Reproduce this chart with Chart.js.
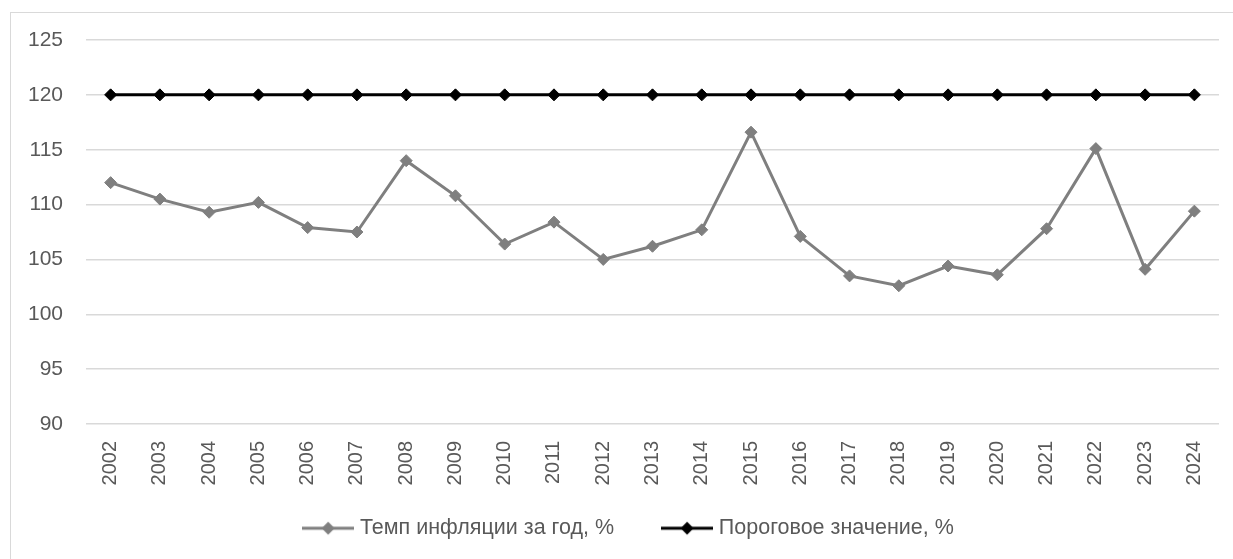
<!DOCTYPE html>
<html>
<head>
<meta charset="utf-8">
<script src="https://cdn.jsdelivr.net/npm/chart.js@4/dist/chart.umd.min.js"></script>
<style>
  html, body { margin: 0; padding: 0; background: #fff; overflow: hidden; }
  #frame { position: absolute; left: 10px; top: 12px; width: 1300px; height: 700px; border: 1px solid #d9d9d9; box-sizing: border-box; }
  #wrap { position: absolute; left: 0; top: 0; width: 1233px; height: 559px; }
</style>
</head>
<body>
<div id="frame"></div>
<div id="wrap"><canvas id="c" width="1233" height="559"></canvas></div>
<script>
const years = ['2002','2003','2004','2005','2006','2007','2008','2009','2010','2011','2012','2013','2014','2015','2016','2017','2018','2019','2020','2021','2022','2023','2024'];
const inflation = [112.0,110.5,109.3,110.2,107.9,107.5,114.0,110.8,106.4,108.4,105.0,106.2,107.7,116.6,107.1,103.5,102.6,104.4,103.6,107.8,115.1,104.1,109.4];
const threshold = [120,120,120,120,120,120,120,120,120,120,120,120,120,120,120,120,120,120,120,120,120,120,120];
const seriesNames = ['Темп инфляции за год, %', 'Пороговое значение, %'];
const yTicks = { min: 90, max: 125, step: 5 };

const FONT = "'Liberation Sans', Arial, sans-serif";
const TEXT = '#595959';

function legendIcon(color) {
  const c = document.createElement('canvas');
  c.width = 52; c.height = 16;
  const g = c.getContext('2d');
  g.strokeStyle = color; g.lineWidth = 3;
  g.beginPath(); g.moveTo(0, 8); g.lineTo(52, 8); g.stroke();
  g.fillStyle = color;
  g.beginPath(); g.moveTo(26, 1.5); g.lineTo(32.5, 8); g.lineTo(26, 14.5); g.lineTo(19.5, 8); g.closePath(); g.fill();
  return c;
}
const icons = [legendIcon('#7f7f7f'), legendIcon('#000000')];

const layoutTweak = {
  id: 'layoutTweak',
  afterLayout(chart) {
    chart.scales.x.bottom = chart.height;
    chart.legend.left += 14;
    chart.legend.right += 14;
  }
};

new Chart(document.getElementById('c'), {
  type: 'line',
  data: {
    labels: years,
    datasets: [
      { label: seriesNames[0], data: inflation, borderColor: '#7f7f7f', backgroundColor: '#7f7f7f',
        borderWidth: 3, pointStyle: 'rectRot', pointRadius: 6, pointBorderWidth: 1, tension: 0 },
      { label: seriesNames[1], data: threshold, borderColor: '#000000', backgroundColor: '#000000',
        borderWidth: 3, pointStyle: 'rectRot', pointRadius: 6, pointBorderWidth: 1, tension: 0 }
    ]
  },
  plugins: [layoutTweak],
  options: {
    responsive: false,
    animation: false,
    layout: { padding: { left: 14, right: 14, top: 40, bottom: 10 } },
    plugins: {
      tooltip: { enabled: false },
      legend: {
        position: 'bottom',
        labels: {
          font: { family: FONT, size: 21.5 },
          color: TEXT,
          padding: 52,
          usePointStyle: true,
          pointStyleWidth: 42,
          generateLabels: (chart) => chart.data.datasets.map((ds, i) => ({
            text: ds.label, pointStyle: icons[i], fillStyle: ds.borderColor,
            strokeStyle: ds.borderColor, lineWidth: 0, datasetIndex: i, fontColor: TEXT
          }))
        }
      }
    },
    scales: {
      x: {
        offset: true,
        grid: { display: false, drawTicks: false },
        border: { display: false },
        ticks: { font: { family: FONT, size: 20 }, color: TEXT, minRotation: 90, maxRotation: 90, padding: 17, autoSkip: false },
        afterFit: (s) => { s.height = 41.5; s.paddingLeft = 0; s.paddingRight = 0; }
      },
      y: {
        min: yTicks.min, max: yTicks.max,
        grid: { color: '#d9d9d9', lineWidth: 1.5, drawTicks: false },
        border: { display: false },
        ticks: { stepSize: yTicks.step, font: { family: FONT, size: 21 }, color: TEXT, padding: 23 },
        afterFit: (s) => { s.width = 72; }
      }
    }
  }
});
</script>
</body>
</html>
